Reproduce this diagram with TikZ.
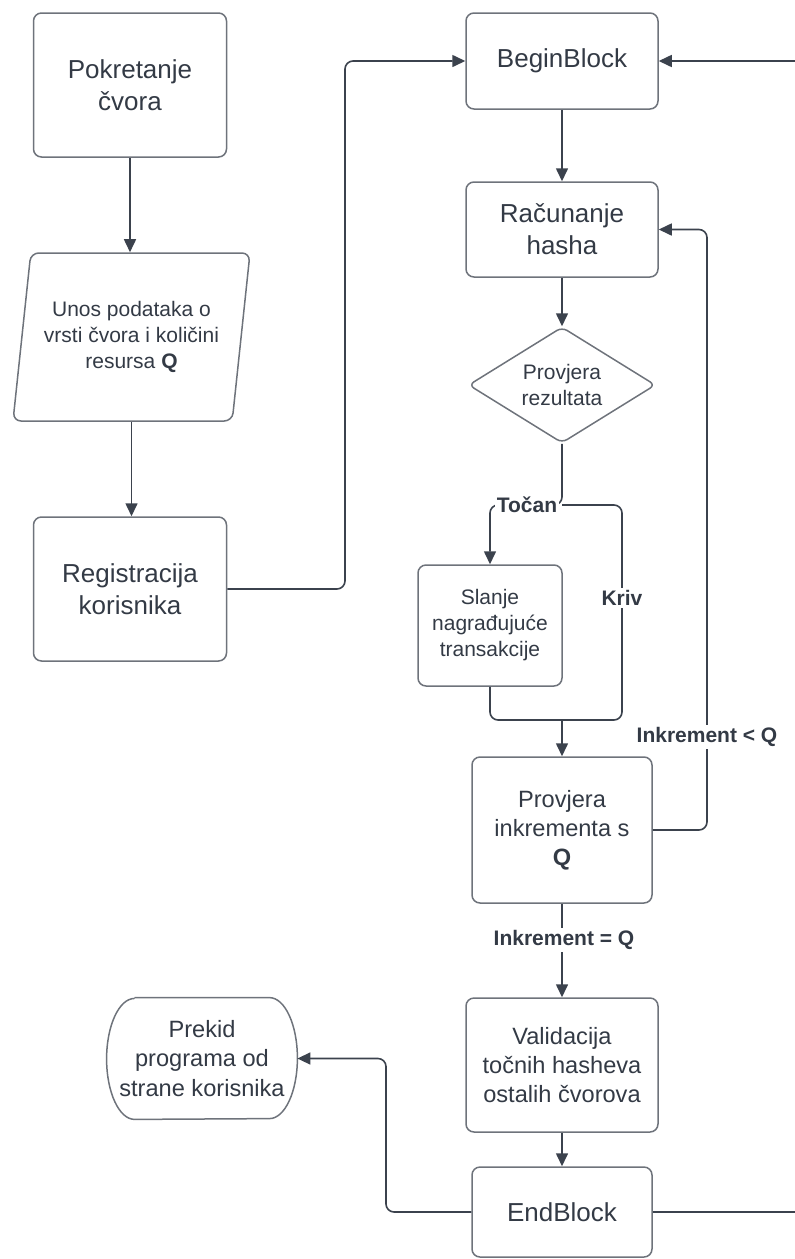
\documentclass[tikz,border=0pt]{standalone}
\usepackage{fontspec}
\setmainfont{Liberation Sans}
\usetikzlibrary{arrows.meta,shapes.geometric}
\definecolor{rub}{HTML}{6E737B}
\definecolor{vez}{HTML}{3B424D}
\definecolor{tekst}{HTML}{333A45}

\begin{document}
\begin{tikzpicture}[x=0.5pt,y=-0.5pt,
	blok/.style={draw=rub,line width=0.75pt,rounded corners=4pt,align=center,text=tekst,inner sep=0pt},
	veliki/.style={font=\fontsize{13pt}{16pt}\selectfont},
	srednji/.style={font=\fontsize{11.8pt}{14.6pt}\selectfont},
	mali/.style={font=\fontsize{10.5pt}{13pt}\selectfont},
	ulaz/.style={blok,mali,trapezium,trapezium left angle=76,trapezium right angle=104,trapezium stretches body=true},
	odluka/.style={blok,mali,diamond,aspect=1.6,rounded corners=3pt},
	kraj/.style={align=center,text=tekst,inner sep=0pt,srednji},
	strel/.style={draw=vez,line width=0.8pt,rounded corners=4pt,-{Triangle[length=6.5pt,width=6pt]}},
	linija/.style={draw=vez,line width=0.8pt,rounded corners=4pt},
	oznaka/.style={fill=white,text=tekst,inner sep=1pt,font=\bfseries\fontsize{10.5pt}{13pt}\selectfont}]
		\useasboundingbox (0,0) rectangle (795,1259);
		\draw (130,85) node [blok,veliki,minimum width=96.5pt,minimum height=72pt] (pokret){Pokretanje\\čvora};
		\draw (131.5,337) node [ulaz,minimum width=118.5pt,minimum height=84pt] (unos){Unos podataka o\\vrsti čvora i količini\\resursa \textbf{Q}};
		\draw (130,589) node [blok,veliki,minimum width=96.5pt,minimum height=72pt] (regist){Registracija\\korisnika};
		\draw (562,61) node [blok,veliki,minimum width=96pt,minimum height=48pt] (begin){BeginBlock};
		\draw (562,229.5) node [blok,veliki,minimum width=96pt,minimum height=47.5pt] (racun){Računanje\\hasha};
		\draw (562,385) node [odluka,minimum width=93.5pt,minimum height=58pt] (provrez){Provjera\\rezultata};
		\draw (490,625.5) node [blok,mali,minimum width=72pt,minimum height=60.5pt] (slanje){Slanje\\nagrađujuće\\transakcije};
		\draw (562,830) node [blok,srednji,minimum width=90pt,minimum height=73pt] (provink){Provjera\\inkrementa s\\\textbf{Q}};
		\draw (562,1065) node [blok,srednji,minimum width=96pt,minimum height=67pt] (valid){Validacija\\točnih hasheva\\ostalih čvorova};
		\draw (562,1212) node [blok,veliki,minimum width=90pt,minimum height=45pt] (endb){EndBlock};
		\draw (202,1058.5) node [kraj,minimum width=95pt,minimum height=60.5pt] (prekid){Prekid\\programa od\\strane korisnika};
		\draw [draw=rub,line width=0.75pt] ([xshift=14pt]prekid.north west) -- ([xshift=-14pt]prekid.north east)
			arc [start angle=90,end angle=-90,x radius=14pt,y radius=30.25pt]
			-- ([xshift=14pt]prekid.south west)
			arc [start angle=270,end angle=90,x radius=14pt,y radius=30.25pt];

		\coordinate (skretA) at (345,61);
		\coordinate (desnoB) at (795,61);
		\coordinate (grana) at (562,505);
		\coordinate (krivD) at (622,720);
		\coordinate (spoj) at (562,720);
		\coordinate (petlja) at (707,229.5);
		\coordinate (desnoE) at (795,1212);
		\coordinate (skretB) at (386,1058.5);

		\draw [strel] (pokret.south) -- (pokret.south |- unos.north);
		\draw [strel] (unos.south) -- (unos.south |- regist.north);
		\draw [strel] (regist.east) -| (skretA) -- (begin.west);
		\draw [strel] (desnoB) -- (begin.east);
		\draw [strel] (begin) -- (racun);
		\draw [strel] (racun.south) -- (provrez.north);
		\draw [strel] (provrez.south) -- (grana) -| (slanje.north);
		\draw [linija] (grana) -| (krivD) -- (spoj);
		\draw [linija] (slanje.south) |- (spoj);
		\draw [strel] (spoj) -- (provink.north);
		\draw [strel] (provink.east) -| (petlja) -- (racun.east);
		\draw [strel] (provink) -- (valid);
		\draw [strel] (valid) -- (endb);
		\draw [linija] (endb.east) -- (desnoE);
		\draw [strel] (endb.west) -| (skretB) -- (prekid.east);

		\draw (527,505) node [oznaka] (tocan){Točan};
		\draw (622,598) node [oznaka] (kriv){Kriv};
		\draw (707,737) node [oznaka] (manje){Inkrement < Q};
		\draw (564,940) node [oznaka] (jednako){Inkrement = Q};
	\end{tikzpicture}
\end{document}
